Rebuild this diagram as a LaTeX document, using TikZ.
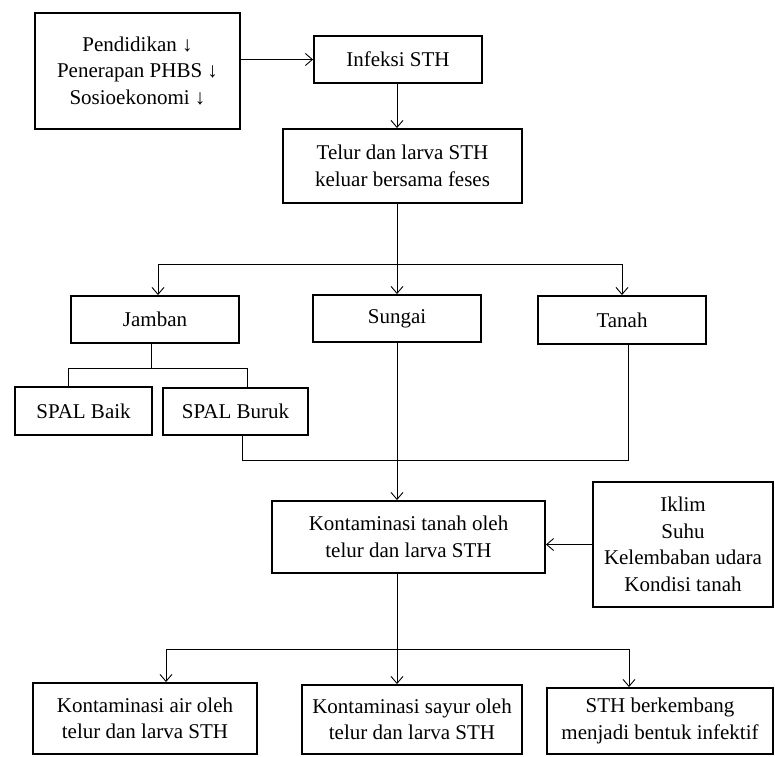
\documentclass[tikz,border=0pt]{standalone}
\usepackage{fontspec}
\setmainfont{Liberation Serif}
\usetikzlibrary{calc, positioning}
\usetikzlibrary{arrows.meta}

\begin{document}
\begin{tikzpicture}[x=1pt,y=-1pt,
  box/.style={draw,line width=1.9pt,align=center,inner sep=2pt,
    font=\fontsize{21}{26.5}\selectfont},
  link/.style={line width=0.9pt},
  arr/.style={link,-{Straight Barb[length=7pt,width=12pt]}}]
\useasboundingbox (0,0) rectangle (775,756);

% boxes
\node[box,minimum width=205pt,minimum height=116pt] (pend) at (137.5,71)
  {Pendidikan ↓\\Penerapan PHBS ↓\\Sosioekonomi ↓};
\node[box,minimum width=168pt,minimum height=47pt] (infeksi) at (398,59.5) {Infeksi STH};
\node[box,minimum width=239pt,minimum height=74pt] (telur) at (402.5,166)
  {Telur dan larva STH\\keluar bersama feses};
\node[box,minimum width=168pt,minimum height=47pt] (jamban) at (155,319.5) {Jamban};
\node[box,minimum width=168pt,minimum height=47pt] (sungai) at (397,318.5) {Sungai};
\node[box,minimum width=168pt,minimum height=48pt] (tanah) at (622,320) {Tanah};
\node[box,minimum width=137pt,minimum height=48pt] (baik) at (83.5,411) {SPAL Baik};
\node[box,minimum width=145pt,minimum height=47pt] (buruk) at (235.5,411.5) {SPAL Buruk};
\node[box,minimum width=273pt,minimum height=72pt] (konttanah) at (408.5,537)
  {Kontaminasi tanah oleh\\telur dan larva STH};
\node[box,minimum width=180pt,minimum height=125pt] (iklim) at (683,544.5)
  {Iklim\\Suhu\\Kelembaban udara\\Kondisi tanah};
\node[box,minimum width=224pt,minimum height=71pt] (kontair) at (145,718.5)
  {Kontaminasi air oleh\\telur dan larva STH};
\node[box,minimum width=220pt,minimum height=69pt] (kontsayur) at (412,719.5)
  {Kontaminasi sayur oleh\\telur dan larva STH};
\node[box,minimum width=226pt,minimum height=66pt] (infektif) at (660,721)
  {STH berkembang\\menjadi bentuk infektif};

% connectors
\coordinate (split) at (397,264);
\coordinate (split2) at (397,649);

\draw[arr] (pend.east |- infeksi.west) -- (infeksi.west);
\draw[arr] (infeksi.south -| split) -- (telur.north -| split);
\draw[link] (telur.south -| split) -- (split);
\draw[arr] (split) -- (sungai.north);
\draw[arr] (split) -| ($(jamban.north)+(3,0)$);
\draw[arr] (split) -| (tanah.north);

\draw[link] ($(jamban.south)+(-4,0)$) -- ++(0,24) coordinate (jsplit);
\draw[link] ($(baik.north)+(-15,0)$) |- (jsplit) -| ($(buruk.north)+(11.5,0)$);

\draw[link] ($(buruk.south)+(6.5,0)$) -- ++(0,24) coordinate (join) -| ($(tanah.south)+(6,0)$);
\draw[arr] (sungai.south) -- (sungai.south |- konttanah.north);

\draw[arr] (iklim.west) -- (konttanah.east |- iklim.west);

\draw[link] (konttanah.south -| split2) -- (split2);
\draw[arr] (split2) -- (split2 |- kontsayur.north);
\draw[arr] (split2) -| ($(kontair.north)+(21,0)$);
\draw[arr] (split2) -| ($(infektif.north)+(-31,0)$);
\end{tikzpicture}
\end{document}
